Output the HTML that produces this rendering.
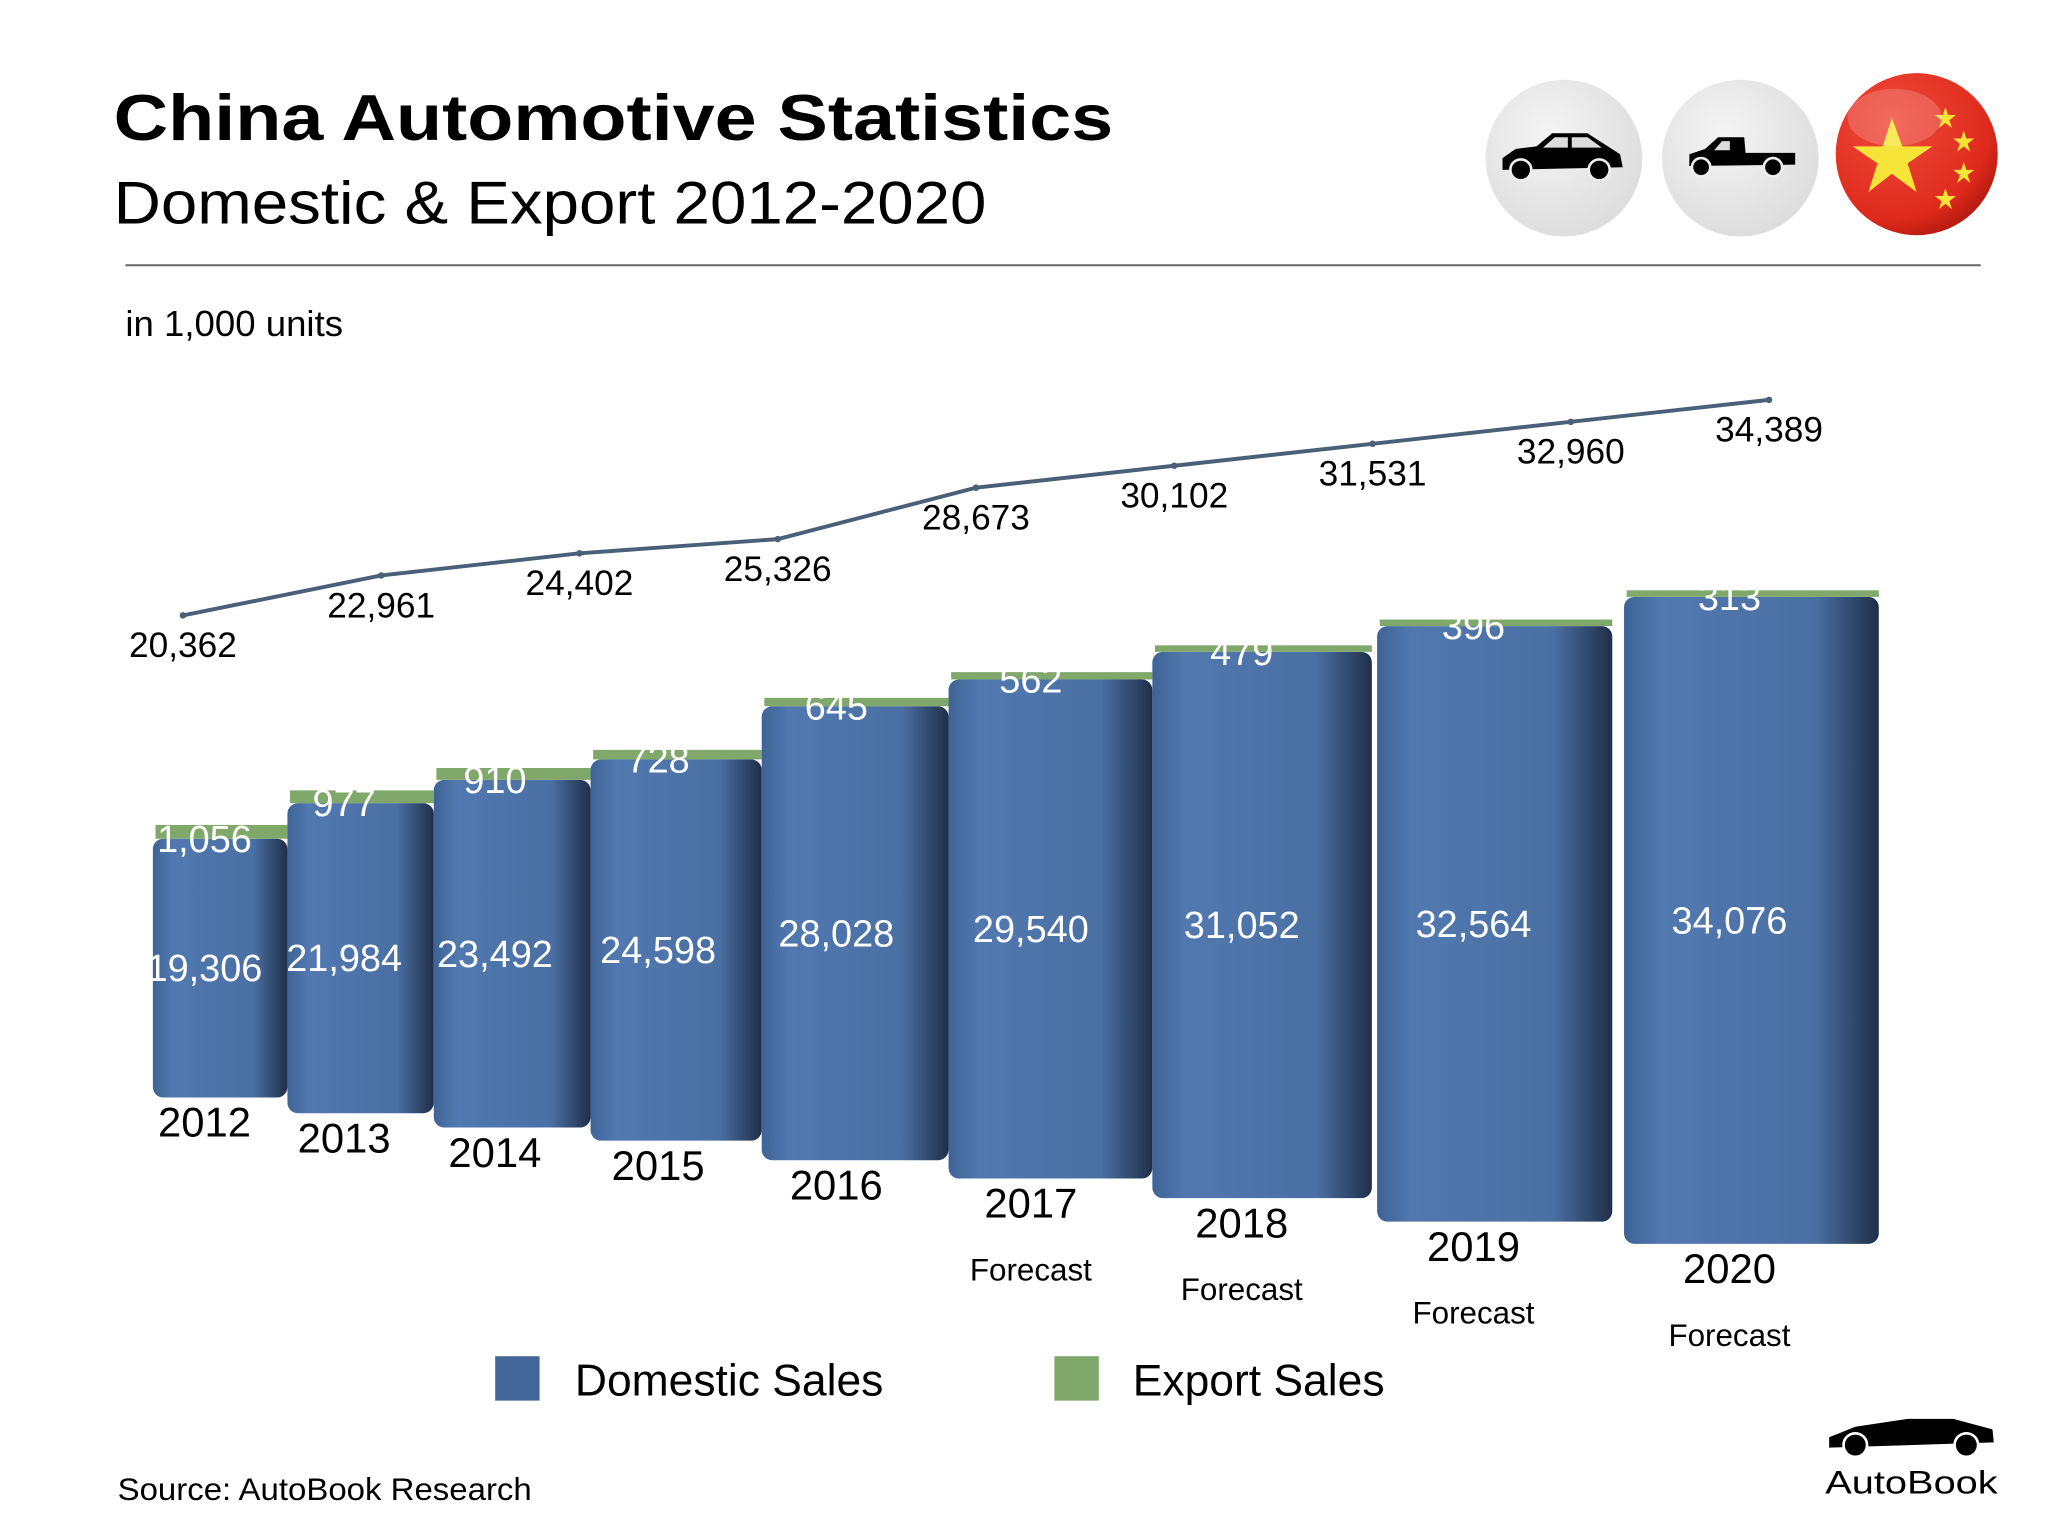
<!DOCTYPE html>
<html><head><meta charset="utf-8">
<style>
html,body{margin:0;padding:0;background:#fff;}
svg{display:block;font-family:"Liberation Sans",sans-serif;}
</style></head>
<body>
<svg id="chart" width="2048" height="1536" viewBox="0 0 1567.5 1175.6" xmlns="http://www.w3.org/2000/svg">
<defs>
<linearGradient id="barGrad" x1="0" x2="1" y1="0" y2="0">
<stop offset="0" stop-color="#3f6396"/><stop offset="0.15" stop-color="#5179b0"/><stop offset="0.75" stop-color="#4a6fa3"/><stop offset="1" stop-color="#1f2f48"/>
</linearGradient>
<radialGradient id="btnGrad" cx="0.4" cy="0.35" r="0.7"><stop offset="0" stop-color="#f4f4f4"/><stop offset="1" stop-color="#dcdcdc"/></radialGradient>
<radialGradient id="flagGrad" cx="0.35" cy="0.3" r="0.75"><stop offset="0" stop-color="#f04a3a"/><stop offset="0.8" stop-color="#de2a1c"/><stop offset="1" stop-color="#b51a10"/></radialGradient>
</defs>
<text x="87" y="107" font-size="50" font-weight="bold" fill="#000" textLength="765" lengthAdjust="spacingAndGlyphs">China Automotive Statistics</text>
<text x="87" y="171" font-size="46" fill="#000" textLength="668" lengthAdjust="spacingAndGlyphs">Domestic &amp; Export 2012-2020</text>
<line x1="96" y1="203" x2="1516" y2="203" stroke="#666" stroke-width="1.5"/>
<text x="96" y="257" font-size="28" fill="#000">in 1,000 units</text>

<g>
<circle cx="1197" cy="121" r="60" fill="url(#btnGrad)"/>
<path d="M1150 121 L1160 114 L1176 112 L1188 102 L1215 102 L1240 118 L1242 128 L1150 130 Z" fill="#000"/>
<path d="M1181 113 L1190 105 L1200 105 L1200 113 Z M1203 105 L1215 105 L1226 113 L1203 113 Z" fill="#ddd"/>
<circle cx="1164" cy="130" r="8" fill="#000" stroke="#eee" stroke-width="2"/><circle cx="1224" cy="130" r="8" fill="#000" stroke="#eee" stroke-width="2"/>
</g>
<g>
<circle cx="1332" cy="121" r="60" fill="url(#btnGrad)"/>
<path d="M1293 118 L1305 114 L1315 105 L1335 105 L1336 117 L1374 117 L1374 126 L1293 127 Z" fill="#000"/>
<path d="M1318 108 L1324 108 L1324 115 L1312 115 Z" fill="#ddd"/>
<circle cx="1302" cy="128" r="7" fill="#000" stroke="#eee" stroke-width="2"/><circle cx="1357" cy="128" r="7" fill="#000" stroke="#eee" stroke-width="2"/>
</g>
<g>
<circle cx="1467" cy="118" r="62" fill="url(#flagGrad)"/>
<polygon points="1448,90 1456,112 1479,112 1460,125 1467,147 1448,133 1430,147 1437,125 1418,112 1441,112" fill="#f7e438"/>
<polygon points="1489,82 1491,88 1497,88 1492,92 1494,98 1489,94 1484,98 1486,92 1481,88 1487,88" fill="#f7e438"/>
<polygon points="1503,100 1505,106 1511,106 1506,110 1508,116 1503,112 1498,116 1500,110 1495,106 1501,106" fill="#f7e438"/>
<polygon points="1503,124 1505,130 1511,130 1506,134 1508,140 1503,136 1498,140 1500,134 1495,130 1501,130" fill="#f7e438"/>
<polygon points="1489,144 1491,150 1497,150 1492,154 1494,160 1489,156 1484,160 1486,154 1481,150 1487,150" fill="#f7e438"/>
<ellipse cx="1450" cy="90" rx="36" ry="22" fill="#fff" opacity="0.18"/>
</g>

<g id="bars"></g>
<g id="line"></g>

<g>
<rect x="379" y="1038" width="34" height="34" fill="#44679a"/>
<text x="440" y="1068" font-size="34" fill="#000">Domestic Sales</text>
<rect x="807" y="1038" width="34" height="34" fill="#7fa86a"/>
<text x="867" y="1068" font-size="34" fill="#000">Export Sales</text>
</g>
<text x="90" y="1148" font-size="24" fill="#000" textLength="317" lengthAdjust="spacingAndGlyphs">Source:  AutoBook Research</text>
<g>
<path d="M1400 1100 L1420 1092 L1460 1086 L1495 1086 L1525 1094 L1526 1104 L1400 1108 Z" fill="#000"/>
<circle cx="1420" cy="1106" r="9" fill="#000" stroke="#fff" stroke-width="2"/><circle cx="1505" cy="1106" r="9" fill="#000" stroke="#fff" stroke-width="2"/>
<text x="1397" y="1143" font-size="25" fill="#000" textLength="132" lengthAdjust="spacingAndGlyphs">AutoBook</text>
</g>
</svg>
<script>
const years = ["2012","2013","2014","2015","2016","2017","2018","2019","2020"];
const forecast = [false,false,false,false,false,true,true,true,true];
const domestic = [19306,21984,23492,24598,28028,29540,31052,32564,34076];
const exportSales = [1056,977,910,728,645,562,479,396,313];
const totals = [20362,22961,24402,25326,28673,30102,31531,32960,34389];
const domLabels = ["19,306","21,984","23,492","24,598","28,028","29,540","31,052","32,564","34,076"];
const expLabels = ["1,056","977","910","728","645","562","479","396","313"];
const totLabels = ["20,362","22,961","24,402","25,326","28,673","30,102","31,531","32,960","34,389"];

const NS = "http://www.w3.org/2000/svg";
function mk(tag, attrs, parent){const e=document.createElementNS(NS,tag);for(const k in attrs)e.setAttribute(k,attrs[k]);parent.appendChild(e);return e;}
// perspective layout
const barLeft = [117,220,332,452,583,726,882,1054,1243];
const barRight = [220,332,452,583,726,882,1050,1234,1438];
const barBottom = [840,852,863,873,888,902,917,935,952];
function scaleK(i){return 0.01026 + i*0.000534;}
function hY(i,v){return barBottom[i] - v*scaleK(i);}
const capH = 7;
const bars = document.getElementById('bars');
years.forEach((y,i)=>{
  const g = mk('g',{},bars);
  
  
  const x0=barLeft[i], w=barRight[i]-barLeft[i];
  const top = hY(i,domestic[i]);
  const d = mk('rect',{x:x0,y:top,width:w,height:barBottom[i]-top,rx:8,fill:'url(#barGrad)'},g);
  
  
  const ch = Math.max(capH*exportSales[i]/700,5);
  const c = mk('rect',{x:x0+2,y:top-ch,width:w-2,height:ch,fill:'#7fa86a'},g);
  
  
  const cx = x0+w/2 - 12 - i*0.6;
  const t1 = mk('text',{x:cx,y:(top+barBottom[i])/2+10,'font-size':29,'text-anchor':'middle',fill:'#fff'},g);
  t1.textContent = domLabels[i];
  
  
  const t2 = mk('text',{x:cx,y:top+10,'font-size':29,'text-anchor':'middle',fill:'#fff'},g);
  t2.textContent = expLabels[i];
  
  
  const t3 = mk('text',{x:cx,y:barBottom[i]+30,'font-size':32,'text-anchor':'middle',fill:'#000'},g);
  t3.textContent = y;
  
  
  if(forecast[i]){
    const t4 = mk('text',{x:cx,y:barBottom[i]+78,'font-size':24,'text-anchor':'middle',fill:'#000'},g);
    t4.textContent = 'Forecast';
    
    
  }
});
// total line
const lineX0=140, lineDx=151.75;
function lx(i){return lineX0+i*lineDx;}
function ly(v){return 471-(v-20362)*0.01176;}
const lg = document.getElementById('line');


const pl = mk('polyline',{points:totals.map((v,i)=>lx(i)+','+ly(v)).join(' '),fill:'none',stroke:'#4a5f78','stroke-width':3},lg);


totals.forEach((v,i)=>{
  const p = mk('circle',{cx:lx(i),cy:ly(v),r:2.5,fill:'#4a5f78'},lg);
  
  
  const t = mk('text',{x:lx(i),y:ly(v)+32,'font-size':27,'text-anchor':'middle',fill:'#000'},lg);
  t.textContent = totLabels[i];
  
  
});
</script>
</body></html>
